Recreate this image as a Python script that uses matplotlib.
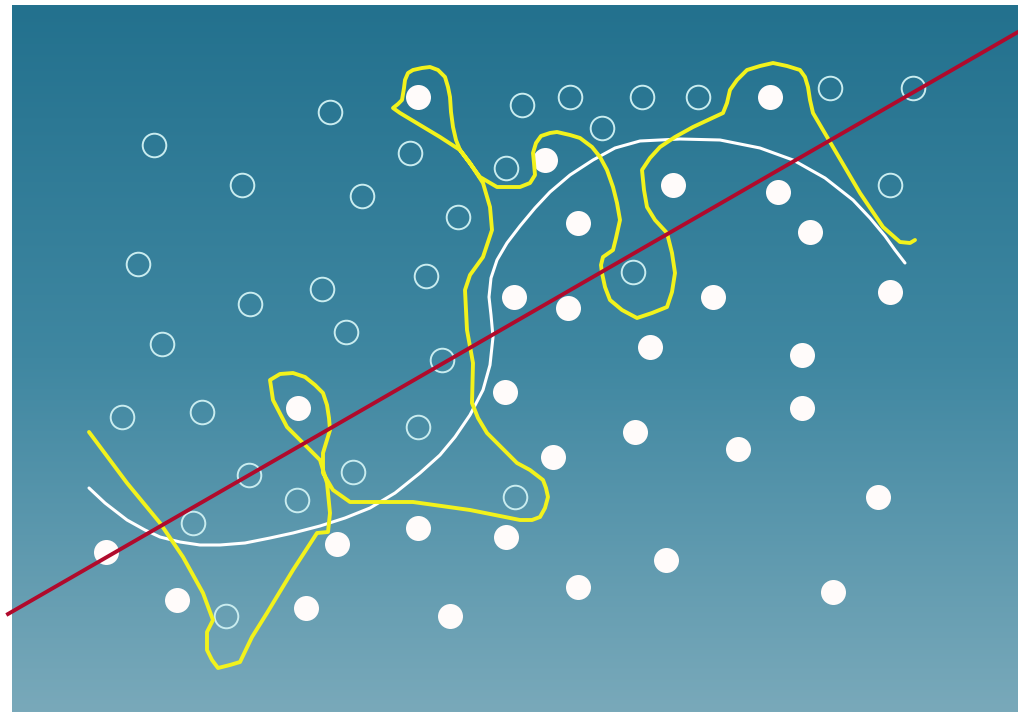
import numpy as np
import matplotlib
matplotlib.use('Agg')
import matplotlib.pyplot as plt
from matplotlib.colors import LinearSegmentedColormap

# class A: hollow circles (pixel coords, y down)
open_x = [154, 330, 242, 362, 410, 458, 138, 426, 322, 250, 346, 162, 442,
          122, 202, 249, 297, 193, 226, 353, 418, 515, 522, 570, 602, 506,
          642, 698, 830, 913, 890, 633]
open_y = [145, 112, 185, 196, 153, 217, 264, 276, 289, 304, 332, 344, 360,
          417, 412, 475, 500, 523, 616, 472, 427, 497, 105, 97, 128, 168,
          97, 97, 88, 88, 185, 272]

# class B: filled circles
fill_x = [418, 545, 770, 673, 778, 578, 810, 514, 568, 713, 890, 650, 802,
          505, 298, 802, 635, 738, 553, 878, 106, 337, 418, 506, 666, 578,
          833, 177, 306, 450]
fill_y = [97, 160, 97, 185, 192, 223, 232, 297, 308, 297, 292, 347, 355,
          392, 408, 408, 432, 449, 457, 497, 552, 544, 528, 537, 560, 587,
          592, 600, 608, 616]

# overfitted boundary (yellow), traced by hand
wig_x = [89, 127, 160, 183, 203, 213, 207, 207, 212, 218, 230, 240, 252, 267,
         293, 317, 328, 330, 327, 320, 307, 287, 273, 270, 280, 293, 305, 315,
         323, 327, 329, 330, 323, 323, 333, 350, 413, 470, 520, 532, 540, 545,
         548, 546, 543, 530, 517, 502, 487, 478, 472, 473, 467, 465, 470, 483,
         492, 490, 483, 470, 460, 440, 420, 400, 393, 398, 402, 404, 405, 408,
         413, 422, 430, 438, 445, 448, 450, 451, 453, 456, 460, 480, 497, 520,
         530, 535, 534, 533, 536, 541, 550, 557, 570, 580, 592, 600, 607, 613,
         617, 620, 616, 613, 603, 601, 602, 605, 610, 622, 637, 652, 667, 672,
         675, 672, 667, 655, 647, 644, 642, 650, 660, 675, 693, 708, 723, 727,
         730, 737, 747, 760, 773, 787, 800, 805, 808, 810, 813, 833, 860, 883,
         900, 910, 915]
wig_y = [432, 483, 523, 557, 593, 620, 632, 650, 660, 668, 665, 662, 637, 613,
         570, 533, 532, 513, 483, 460, 447, 427, 400, 380, 374, 373, 377, 385,
         393, 405, 418, 430, 453, 473, 490, 502, 502, 510, 520, 520, 517, 508,
         497, 488, 480, 470, 463, 448, 433, 418, 403, 363, 330, 290, 275, 257,
         230, 207, 183, 163, 150, 137, 125, 113, 108, 104, 100, 88, 80, 73,
         70, 68, 67, 70, 77, 87, 97, 112, 127, 140, 150, 177, 187, 187,
         183, 175, 163, 153, 143, 136, 133, 132, 135, 138, 147, 157, 170, 187,
         203, 220, 238, 250, 257, 265, 273, 287, 300, 310, 318, 313, 307, 292,
         273, 253, 233, 220, 207, 190, 170, 158, 147, 137, 127, 120, 113, 103,
         90, 80, 70, 66, 63, 66, 70, 77, 87, 100, 113, 147, 193, 227,
         242, 243, 240]

# smooth boundary (white)
good_x = [89, 105, 127, 145, 160, 180, 200, 220, 245, 270, 293, 320, 345, 370,
          395, 420, 440, 455, 470, 483, 490, 493, 491, 489, 491, 497, 507, 520,
          535, 550, 570, 593, 615, 640, 680, 720, 760, 793, 825, 853, 870, 885,
          895, 905]
good_y = [488, 503, 520, 530, 537, 542, 545, 545, 543, 538, 533, 526, 518, 508,
          493, 473, 455, 437, 415, 390, 365, 337, 315, 297, 278, 260, 243, 226,
          208, 192, 175, 160, 148, 141, 139, 140, 148, 160, 178, 200, 218, 236,
          250, 263]

# linear boundary (red)
lin_x = [8, 1018]
lin_y = [614, 32]

fig = plt.figure(figsize=(10.18, 7.13), dpi=100)
ax = fig.add_axes([0, 0, 1, 1])
ax.set_xlim(0, 1018)
ax.set_ylim(713, 0)
ax.axis('off')

bg = LinearSegmentedColormap.from_list('bg', ['#23718e', '#3f87a1', '#79a9ba'])
grad = np.linspace(0, 1, 256).reshape(-1, 1)
ax.imshow(grad, cmap=bg, aspect='auto', extent=(12, 1018, 712, 5), zorder=0)

ax.plot(open_x, open_y, 'o', ms=17, mfc='none', mec='#c9ecef', mew=1.4, zorder=2)
ax.plot(fill_x, fill_y, 'o', ms=18, mfc='#fffbfa', mec='none', zorder=2)

ax.plot(good_x, good_y, color='white', lw=2.2, solid_capstyle='round',
        solid_joinstyle='round', zorder=3)
ax.plot(wig_x, wig_y, color='#f2f21c', lw=2.8, solid_capstyle='round',
        solid_joinstyle='round', zorder=4)
ax.plot(lin_x, lin_y, color='#b00a2c', lw=2.8, zorder=5)

fig.savefig('out.png', dpi=100)
